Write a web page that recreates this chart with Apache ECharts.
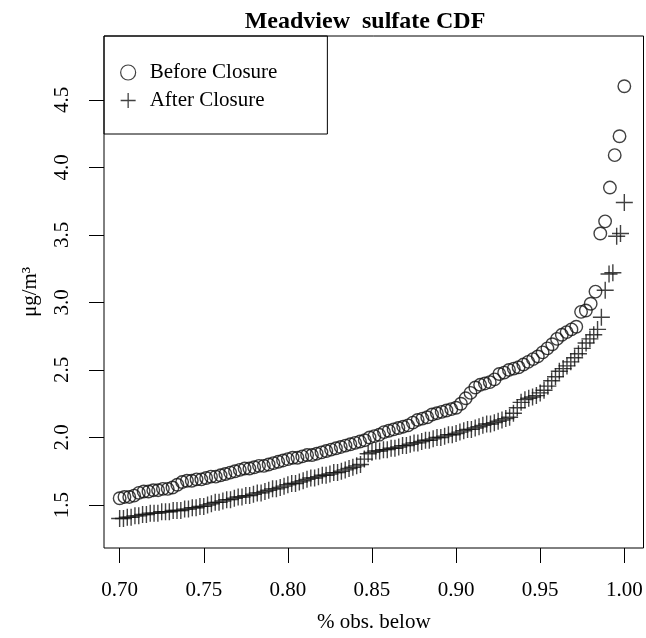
<!DOCTYPE html>
<html>
<head>
<meta charset="utf-8">
<script src="https://cdn.jsdelivr.net/npm/echarts@6/dist/echarts.min.js"></script>
<style>html,body{margin:0;padding:0;background:#fff;}#c{width:646px;height:638px;}</style>
</head>
<body>
<div id="c"></div>
<script>
// Sorted sulfate values (upper 30% of each empirical CDF)
const beforeN = 350;      // sample size, Before Closure
const beforeStartRank = 245;
const beforeValues = [
1.55,1.56,1.56,1.57,1.59,1.60,1.60,1.61,1.61,1.62,
1.62,1.63,1.65,1.67,1.68,1.68,1.69,1.69,1.70,1.71,
1.71,1.72,1.73,1.74,1.75,1.76,1.77,1.77,1.78,1.79,
1.79,1.80,1.81,1.82,1.83,1.84,1.85,1.85,1.86,1.87,
1.87,1.88,1.89,1.90,1.91,1.92,1.93,1.94,1.95,1.96,
1.97,1.98,2.00,2.01,2.02,2.04,2.05,2.06,2.07,2.08,
2.09,2.11,2.13,2.14,2.15,2.17,2.18,2.19,2.20,2.21,
2.22,2.25,2.29,2.33,2.37,2.39,2.40,2.41,2.43,2.47,
2.48,2.50,2.51,2.52,2.54,2.56,2.58,2.60,2.63,2.66,
2.69,2.73,2.76,2.78,2.80,2.82,2.93,2.94,2.99,3.08,
3.51,3.60,3.85,4.09,4.23,4.60
];
const afterN = 440;       // sample size, After Closure
const afterStartRank = 308;
const afterValues = [
1.40,1.40,1.41,1.41,1.42,1.42,1.43,1.43,1.44,1.44,
1.44,1.45,1.45,1.45,1.46,1.46,1.46,1.47,1.47,1.48,
1.48,1.49,1.49,1.50,1.51,1.52,1.52,1.53,1.54,1.54,
1.55,1.56,1.56,1.57,1.57,1.58,1.59,1.59,1.60,1.61,
1.62,1.62,1.63,1.64,1.65,1.66,1.66,1.67,1.68,1.69,
1.70,1.70,1.71,1.72,1.72,1.73,1.74,1.74,1.75,1.76,
1.77,1.78,1.79,1.80,1.84,1.88,1.89,1.90,1.90,1.91,
1.91,1.92,1.92,1.93,1.94,1.94,1.95,1.96,1.96,1.97,
1.98,1.98,1.99,2.00,2.00,2.01,2.02,2.02,2.03,2.04,
2.05,2.06,2.06,2.07,2.08,2.09,2.10,2.10,2.11,2.12,
2.13,2.14,2.15,2.18,2.22,2.26,2.28,2.29,2.30,2.31,
2.33,2.35,2.38,2.42,2.45,2.49,2.51,2.53,2.56,2.59,
2.62,2.66,2.70,2.73,2.76,2.80,2.89,3.09,3.21,3.22,
3.49,3.51,3.74
];
const xTicks = [0.70,0.75,0.80,0.85,0.90,0.95,1.00];
const yTicks = [1.5,2.0,2.5,3.0,3.5,4.0,4.5];
const seriesNames = ['Before Closure','After Closure'];

function cdfPoints(values, startRank, n){
  return values.map((v,k)=>[(startRank+k)/n, v]);
}

const FONT = 'Liberation Serif';
const INK = '#111';
const crossPath = 'path://M0,5L10,5M5,0L5,10';

const chart = echarts.init(document.getElementById('c'), null, {renderer:'canvas'});
chart.setOption({
  animation:false,
  backgroundColor:'#fff',
  title:{
    text:'Meadview  sulfate CDF',
    left:360, top:5, textAlign:'center',
    textStyle:{fontFamily:FONT, fontWeight:'bold', fontSize:24, color:'#000'}
  },
  legend:{
    left:104, top:36, orient:'vertical',
    padding:[26,50,23,16], itemGap:7,
    itemWidth:15, itemHeight:15,
    borderColor:'#000', borderWidth:1,
    textStyle:{fontFamily:FONT, fontSize:21, color:'#000', padding:[0,0,0,9], lineHeight:21},
    data:[
      {name:seriesNames[0], icon:'circle', itemStyle:{color:'transparent', borderColor:INK, borderWidth:1.2}},
      {name:seriesNames[1], icon:crossPath, itemStyle:{color:'transparent', borderColor:INK, borderWidth:1.3}}
    ]
  },
  grid:{left:104, right:2.5, top:36, bottom:85.3, show:true, borderColor:'#000', borderWidth:1, backgroundColor:'transparent'},
  xAxis:{
    type:'value', min:0.6907, max:1.0114,
    name:'% obs. below', nameLocation:'middle', nameGap:64,
    nameTextStyle:{fontFamily:FONT, fontSize:21, color:'#000'},
    axisLine:{show:false},
    splitLine:{show:false},
    axisTick:{show:true, inside:false, length:15, customValues:xTicks, lineStyle:{color:'#000', width:1}},
    axisLabel:{customValues:xTicks, margin:32, fontFamily:FONT, fontSize:21, color:'#000',
      formatter:v=>v.toFixed(2)}
  },
  yAxis:{
    type:'value', min:1.182, max:4.972,
    name:'μg/m³', nameLocation:'middle', nameGap:63, nameRotate:90,
    nameTextStyle:{fontFamily:FONT, fontSize:21, color:'#000'},
    axisLine:{show:false},
    splitLine:{show:false},
    axisTick:{show:true, inside:false, length:15, customValues:yTicks, lineStyle:{color:'#000', width:1}},
    axisLabel:{customValues:yTicks, rotate:90, margin:31, fontFamily:FONT, fontSize:21, color:'#000',
      formatter:v=>v.toFixed(1)}
  },
  series:[
    {
      name:seriesNames[0], type:'scatter', symbol:'circle', symbolSize:12.5,
      itemStyle:{color:'transparent', borderColor:INK, borderWidth:1.4},
      data:cdfPoints(beforeValues, beforeStartRank, beforeN)
    },
    {
      name:seriesNames[1], type:'scatter', symbol:crossPath, symbolSize:17,
      itemStyle:{color:'transparent', borderColor:INK, borderWidth:1.4},
      data:cdfPoints(afterValues, afterStartRank, afterN)
    }
  ]
});
</script>
</body>
</html>
